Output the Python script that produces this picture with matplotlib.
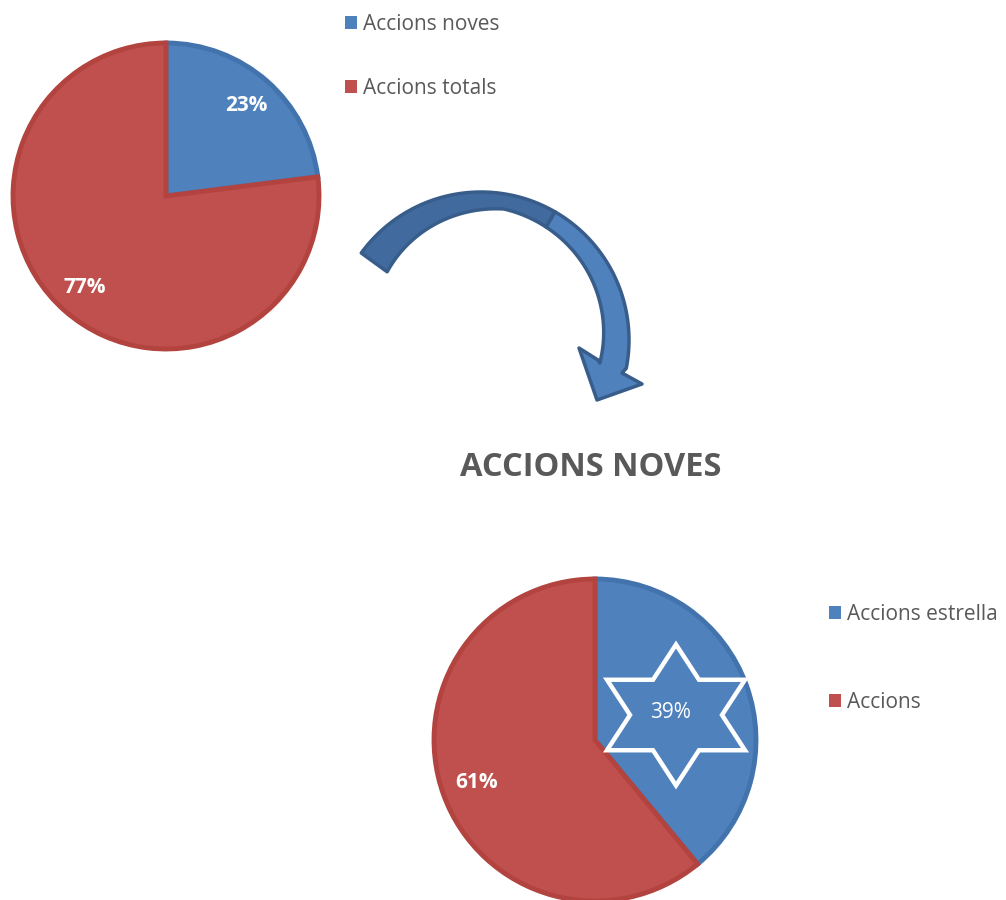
import numpy as np
import matplotlib
matplotlib.use("Agg")
import matplotlib.pyplot as plt
from matplotlib.patches import Polygon, Patch

# data
top_labels = ["Accions noves", "Accions totals"]
top_values = [23, 77]
bottom_title = "ACCIONS NOVES"
bottom_labels = ["Accions estrella", "Accions"]
bottom_values = [39, 61]

BLUE, RED = "#4F81BD", "#C0504D"
BLUE_EDGE, RED_EDGE = "#4273AD", "#B2433F"
GREY = "#595959"
W, H = 1006, 900

plt.rcParams['font.family'] = ['Open Sans', 'DejaVu Sans']
fig = plt.figure(figsize=(W / 100, H / 100), dpi=100)


def px_axes(cx, cy, half):
    # square axes centred on a pixel position
    return fig.add_axes([(cx - half) / W, 1 - (cy + half) / H, 2 * half / W, 2 * half / H])


def draw_pie(cx, cy, r, values, dists, bold_flags, sizes):
    lim = 1.12
    ax = px_axes(cx, cy, r * lim)
    wedges, _ = ax.pie(values, colors=[BLUE, RED], startangle=90, counterclock=False,
                       wedgeprops=dict(linewidth=3.5))
    for w, ec in zip(wedges, [BLUE_EDGE, RED_EDGE]):
        w.set_edgecolor(ec)
    for w, v, d, b, s in zip(wedges, values, dists, bold_flags, sizes):
        mid = np.deg2rad((w.theta1 + w.theta2) / 2)
        ax.text(d * np.cos(mid), d * np.sin(mid), f"{v}%", ha="center", va="center",
                color="white", fontsize=s, fontweight="bold" if b else "normal", zorder=5)
    ax.set_xlim(-lim, lim)
    ax.set_ylim(-lim, lim)
    ax.set_aspect("equal")
    ax.axis("off")
    return ax, wedges


ax1, w1 = draw_pie(166, 196, 153, top_values, [0.79, 0.8], [True, True], [15, 15])
ax2, w2 = draw_pie(595, 740, 161, bottom_values, [0.5, 0.78], [False, True], [15, 15])

# overlay in pixel coordinates for arrow, star, title and legends
ov = fig.add_axes([0, 0, 1, 1], zorder=10)
ov.set_xlim(0, W)
ov.set_ylim(H, 0)
ov.axis("off")

# curved arrow
cx, cy, r_out = 481, 340, 148


def arc_pt(r, th):
    t = np.deg2rad(th)
    return cx + r * np.cos(t), cy - r * np.sin(t)


def band(th0, th1):
    th = np.linspace(th0, th1, 80)
    width = np.interp(th, [-11, 80, 144], [27, 15, 32])
    outer = [arc_pt(r_out, t) for t in th]
    inner = [arc_pt(r_out - w, t) for t, w in zip(th, width)]
    return outer, inner


o1, i1 = band(144, 60)
ov.add_patch(Polygon(o1 + i1[::-1], closed=True, facecolor="#416B9E",
                     edgecolor="#385D8A", linewidth=2.5, joinstyle="round"))
o2, i2 = band(60, -11)
head = [(622, 373), (642, 384), (597, 400), (579, 348), (598, 360)]
ov.add_patch(Polygon(o2 + head + i2[::-1], closed=True, facecolor=BLUE,
                     edgecolor="#385D8A", linewidth=2.5, joinstyle="round"))

# star around the 39% label
scx, scy, sr, stretch = 676, 715, 70.5, 1.13
star = []
for k in range(12):
    ang = np.deg2rad(90 - 30 * k)
    rr = sr if k % 2 == 0 else sr / np.sqrt(3)
    star.append((scx + stretch * rr * np.cos(ang), scy - rr * np.sin(ang)))
ov.add_patch(Polygon(star, closed=True, facecolor="none", edgecolor="white",
                     linewidth=3.2, joinstyle="miter"))

ov.text(591, 467, bottom_title, ha="center", va="center", fontsize=23.5,
        fontweight="bold", color=GREY)

leg_kw = dict(loc="upper left", frameon=False, fontsize=15, labelcolor=GREY,
              handlelength=0.58, handleheight=0.58, handletextpad=0.3,
              borderpad=0, borderaxespad=0)
h1 = [Patch(facecolor=w.get_facecolor(), edgecolor="none") for w in w1]
h2 = [Patch(facecolor=w.get_facecolor(), edgecolor="none") for w in w2]
fig.legend(h1, top_labels, bbox_to_anchor=(345 / W, 1 - 14 / H),
           labelspacing=2.04, **leg_kw)
fig.legend(h2, bottom_labels, bbox_to_anchor=(829 / W, 1 - 604 / H),
           labelspacing=3.2, **leg_kw)

fig.savefig("out.png", dpi=100)
